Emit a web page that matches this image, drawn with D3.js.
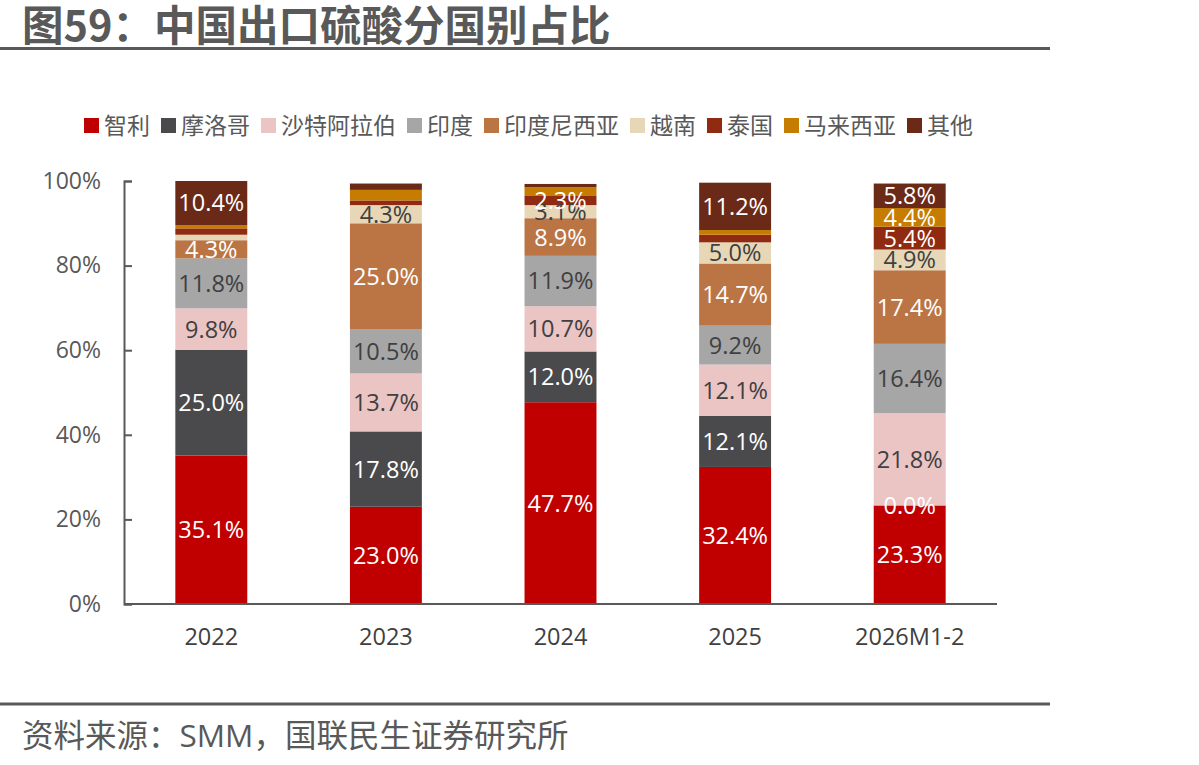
<!DOCTYPE html>
<html>
<head>
<meta charset="utf-8">
<script src="https://cdn.jsdelivr.net/npm/d3@7"></script>
<style>
  body { margin: 0; background: #fff; }
  svg { display: block; font-family: "Open Sans", "Noto Sans CJK SC", sans-serif; }
</style>
</head>
<body>
<div id="chart"></div>
<script>
// 数据
const categories = ['2022', '2023', '2024', '2025', '2026M1-2'];
const seriesNames = ['智利', '摩洛哥', '沙特阿拉伯', '印度', '印度尼西亚', '越南', '泰国', '马来西亚', '其他'];
const colors = ['#C00000', '#4A4A4C', '#EBC4C4', '#A6A6A6', '#BB7544', '#E8D7B6', '#902A10', '#C67C00', '#6B2A18'];
const labelDark = ['沙特阿拉伯', '印度', '越南'];

const chile     = [35.1, 23.0, 47.7, 32.4, 23.3];
const morocco   = [25.0, 17.8, 12.0, 12.1, 0.0];
const saudi     = [9.8, 13.7, 10.7, 12.1, 21.8];
const india     = [11.8, 10.5, 11.9, 9.2, 16.4];
const indonesia = [4.3, 25.0, 8.9, 14.7, 17.4];
const vietnam   = [1.3, 4.3, 3.1, 5.0, 4.9];
const thailand  = [1.5, 1.1, 2.3, 1.8, 5.4];
const malaysia  = [0.8, 2.5, 1.9, 1.1, 4.4];
const others    = [10.4, 1.5, 0.8, 11.2, 5.8];
const seriesValues = [chile, morocco, saudi, india, indonesia, vietnam, thailand, malaysia, others];

// 不显示标签的段 [系列, 类别]
const hiddenLabels = [
    ['越南', '2022'], ['泰国', '2022'], ['马来西亚', '2022'],
    ['泰国', '2023'], ['马来西亚', '2023'], ['其他', '2023'],
    ['马来西亚', '2024'], ['其他', '2024'],
    ['泰国', '2025'], ['马来西亚', '2025']
];
const yTicks = [0, 20, 40, 60, 80, 100];

const width = 1199, height = 765;
const svg = d3.select('#chart').append('svg')
    .attr('width', width).attr('height', height);

// 标题
svg.append('text')
    .attr('x', 22).attr('y', 41)
    .attr('font-size', 41.5).attr('font-weight', 'bold')
    .attr('fill', '#595959')
    .attr('font-family', '"Noto Sans CJK SC", sans-serif')
    .text('图59：中国出口硫酸分国别占比');
svg.append('line')
    .attr('x1', 0).attr('x2', 1050).attr('y1', 48.5).attr('y2', 48.5)
    .attr('stroke', '#595959').attr('stroke-width', 3);

// 底部来源
svg.append('line')
    .attr('x1', 0).attr('x2', 1050).attr('y1', 704).attr('y2', 704)
    .attr('stroke', '#595959').attr('stroke-width', 3);
svg.append('text')
    .attr('x', 22).attr('y', 747)
    .attr('font-size', 31.5).attr('fill', '#595959')
    .text('资料来源：SMM，国联民生证券研究所');

// 比例尺
const x = d3.scaleBand().domain(categories).range([124, 997]).paddingInner(0.588).paddingOuter(0.294);
const y = d3.scaleLinear().domain([0, 100]).range([604, 181]);

// 堆叠数据
const rows = categories.map((c, i) => {
    const r = { cat: c };
    seriesNames.forEach((s, j) => { r[s] = seriesValues[j][i]; });
    return r;
});
const stacked = d3.stack().keys(seriesNames)(rows);

const groups = svg.append('g').selectAll('g')
    .data(stacked).enter().append('g')
    .attr('fill', (d, i) => colors[i]);

groups.selectAll('rect')
    .data(d => d.map(p => ({ p, key: d.key })))
    .enter().append('rect')
    .attr('x', d => x(d.p.data.cat))
    .attr('width', x.bandwidth())
    .attr('y', d => y(d.p[1]))
    .attr('height', d => y(d.p[0]) - y(d.p[1]));

// 数据标签
const isHidden = (s, c) => hiddenLabels.some(h => h[0] === s && h[1] === c);
const labelLayer = svg.append('g');
stacked.forEach(layer => {
    layer.forEach(p => {
        if (isHidden(layer.key, p.data.cat)) return;
        labelLayer.append('text')
            .attr('x', x(p.data.cat) + x.bandwidth() / 2)
            .attr('y', y((p[0] + p[1]) / 2))
            .attr('dy', '0.36em')
            .attr('text-anchor', 'middle')
            .attr('font-size', 23.5)
            .attr('fill', labelDark.includes(layer.key) ? '#404040' : '#ffffff')
            .text(d3.format('.1f')(p.data[layer.key]) + '%');
    });
});

// 坐标轴
const yAxis = svg.append('g')
    .attr('transform', 'translate(124,0)')
    .call(d3.axisLeft(y).tickValues(yTicks).tickSize(-8).tickPadding(23).tickFormat(d => d + '%'));
yAxis.select('.domain').attr('stroke', '#595959').attr('stroke-width', 2);
yAxis.selectAll('.tick line').attr('stroke', '#595959').attr('stroke-width', 2);
yAxis.selectAll('.tick text').attr('font-size', 23).attr('fill', '#595959')
    .attr('font-family', '"Open Sans", sans-serif');

const xAxis = svg.append('g')
    .attr('transform', 'translate(0,604)')
    .call(d3.axisBottom(x).tickSize(0).tickPadding(24));
xAxis.select('.domain').attr('stroke', '#595959').attr('stroke-width', 2)
    .attr('d', 'M124,0H997');
xAxis.selectAll('.tick text').attr('font-size', 23.5).attr('fill', '#404040')
    .attr('font-family', '"Open Sans", sans-serif');

// 图例
const legend = svg.append('g');
let lx = 84;
seriesNames.forEach((s, i) => {
    const item = legend.append('g').attr('transform', `translate(${lx},0)`);
    item.append('rect').attr('x', 0).attr('y', 118).attr('width', 15).attr('height', 15)
        .attr('fill', colors[i]);
    const t = item.append('text').attr('x', 20).attr('y', 126).attr('dy', '0.36em')
        .attr('font-size', 23).attr('fill', '#595959')
        .attr('font-family', '"Noto Sans CJK SC", sans-serif')
        .text(s);
    lx += 20 + t.node().getComputedTextLength() + 11;
});
</script>
</body>
</html>
